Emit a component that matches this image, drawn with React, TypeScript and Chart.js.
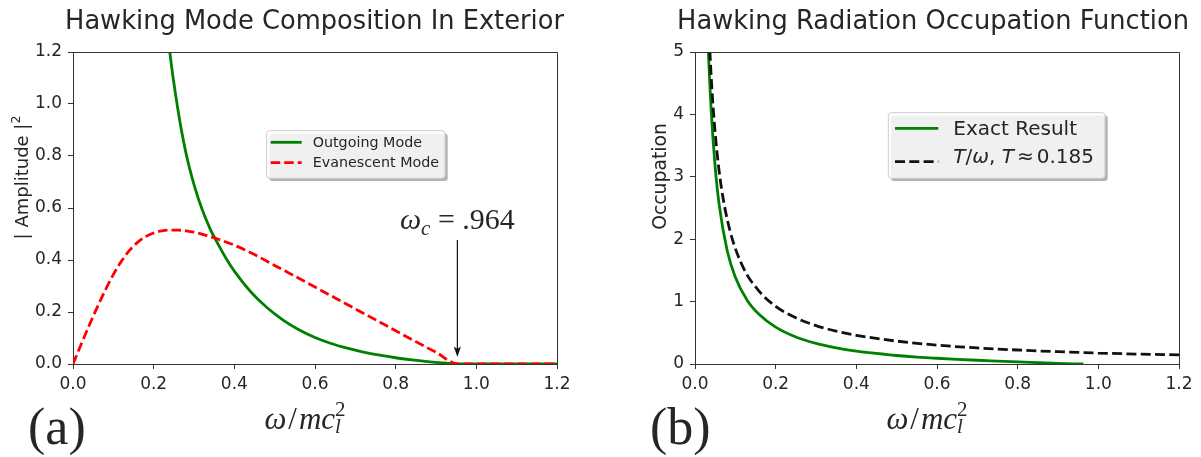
import React, { useEffect, useRef } from 'react';
import { Chart, registerables } from 'chart.js';

Chart.register(...registerables);

// ---------------- data ----------------
const xTickValues = [0, 0.2, 0.4, 0.6, 0.8, 1.0, 1.2];
const amplitudeTickValues = [0, 0.2, 0.4, 0.6, 0.8, 1.0, 1.2];
const occupationTickValues = [0, 1, 2, 3, 4, 5];

const leftTitle = 'Hawking Mode Composition In Exterior';
const rightTitle = 'Hawking Radiation Occupation Function';

// (a) Hawking mode composition in exterior
const omegaOutgoing = [0.2, 0.22, 0.24, 0.26, 0.28, 0.3, 0.32, 0.34, 0.36, 0.38, 0.4, 0.44, 0.48, 0.52, 0.56, 0.6, 0.64, 0.68, 0.72, 0.76, 0.8, 0.84, 0.88, 0.92, 0.953, 1.0, 1.2];
const outgoingAmplitude = [1.94, 1.52, 1.2, 0.98, 0.812, 0.69, 0.595, 0.52, 0.46, 0.405, 0.357, 0.279, 0.218, 0.17, 0.132, 0.102, 0.079, 0.061, 0.046, 0.034, 0.024, 0.016, 0.009, 0.004, 0, 0, 0];

const omegaEvanescent = [0, 0.02, 0.04, 0.06, 0.08, 0.1, 0.12, 0.14, 0.16, 0.18, 0.2, 0.22, 0.24, 0.26, 0.28, 0.3, 0.33, 0.36, 0.4, 0.45, 0.5, 0.55, 0.6, 0.65, 0.7, 0.75, 0.8, 0.85, 0.9, 0.955, 1.0, 1.2];
const evanescentAmplitude = [0, 0.075, 0.148, 0.218, 0.284, 0.344, 0.395, 0.437, 0.468, 0.49, 0.504, 0.512, 0.515, 0.515, 0.512, 0.507, 0.495, 0.48, 0.457, 0.421, 0.379, 0.338, 0.296, 0.254, 0.212, 0.17, 0.128, 0.086, 0.045, 0, 0, 0];

// (b) Hawking radiation occupation function
const omegaExact = [0.025, 0.03, 0.04, 0.05, 0.06, 0.08, 0.1, 0.13, 0.16, 0.2, 0.25, 0.3, 0.35, 0.4, 0.45, 0.5, 0.55, 0.6, 0.65, 0.7, 0.75, 0.8, 0.85, 0.9, 0.963];
const exactOccupation = [6.7, 5.53, 4.08, 3.16, 2.55, 1.81, 1.39, 1.015, 0.788, 0.59, 0.432, 0.33, 0.26, 0.2075, 0.169, 0.136, 0.111, 0.092, 0.075, 0.06, 0.047, 0.034, 0.022, 0.011, 0];

const omegaClassical = [0.03, 0.037, 0.045, 0.054, 0.066, 0.087, 0.12, 0.16, 0.2, 0.25, 0.3, 0.35, 0.4, 0.5, 0.6, 0.7, 0.8, 0.9, 1.0, 1.1, 1.2];
const classicalOccupation = [6.17, 5.0, 4.11, 3.43, 2.8, 2.13, 1.54, 1.16, 0.925, 0.74, 0.615, 0.527, 0.46, 0.367, 0.302, 0.257, 0.224, 0.197, 0.175, 0.159, 0.146];

// cutoff annotation
const cutoffLabel = '.964';
const cutoffArrowOmega = 0.953;
const cutoffArrowTop = 0.477;
const cutoffArrowTip = 0.027;
const cutoffLabelY = 0.52;

// ---------------- styling ----------------
const SANS = "'DejaVu Sans', sans-serif";
const SERIF = "'Liberation Serif', serif";
const AXIS = '#333333';
const TEXT = '#262626';
const GREEN = '#008000';
const RED = '#ff0000';
const BLACK = '#111111';

type Run = { t: string; f: string; dy?: number; gap?: number; stack?: boolean };

function zip(xs: number[], ys: number[]) {
  return xs.map((x, i) => ({ x, y: ys[i] }));
}

function runsWidth(ctx: CanvasRenderingContext2D, runs: Run[]) {
  let w = 0;
  let i = 0;
  while (i < runs.length) {
    const r = runs[i];
    ctx.font = r.f;
    let rw = ctx.measureText(r.t).width;
    if (r.stack && i + 1 < runs.length) {
      ctx.font = runs[i + 1].f;
      rw = Math.max(rw, ctx.measureText(runs[i + 1].t).width);
      i += 2;
    } else i += 1;
    w += rw + (r.gap || 0);
  }
  return w;
}

function drawRuns(ctx: CanvasRenderingContext2D, runs: Run[], x: number, y: number, align: 'left' | 'center') {
  const total = runsWidth(ctx, runs);
  let cx = align === 'center' ? x - total / 2 : x;
  ctx.textAlign = 'left';
  ctx.textBaseline = 'alphabetic';
  let i = 0;
  while (i < runs.length) {
    const r = runs[i];
    ctx.font = r.f;
    ctx.fillText(r.t, cx, y + (r.dy || 0));
    let rw = ctx.measureText(r.t).width;
    if (r.stack && i + 1 < runs.length) {
      const n = runs[i + 1];
      ctx.font = n.f;
      ctx.fillText(n.t, cx, y + (n.dy || 0));
      rw = Math.max(rw, ctx.measureText(n.t).width);
      i += 2;
    } else i += 1;
    cx += rw + (r.gap || 0);
  }
}

function roundRect(ctx: CanvasRenderingContext2D, x: number, y: number, w: number, h: number, r: number) {
  ctx.beginPath();
  ctx.moveTo(x + r, y);
  ctx.lineTo(x + w - r, y);
  ctx.arcTo(x + w, y, x + w, y + r, r);
  ctx.lineTo(x + w, y + h - r);
  ctx.arcTo(x + w, y + h, x + w - r, y + h, r);
  ctx.lineTo(x + r, y + h);
  ctx.arcTo(x, y + h, x, y + h - r, r);
  ctx.lineTo(x, y + r);
  ctx.arcTo(x, y, x + r, y, r);
  ctx.closePath();
}

type LegendSpec = {
  dx: number; dy: number; w: number; h: number;
  lineX0: number; lineX1: number; textX: number;
  rows: { lineY: number; textY: number; runs: Run[] }[];
};

function drawLegend(chart: any, spec: LegendSpec) {
  const ctx: CanvasRenderingContext2D = chart.ctx;
  const a = chart.chartArea;
  const x = a.left + spec.dx;
  const y = a.top + spec.dy;
  ctx.save();
  roundRect(ctx, x + 2.7, y + 2.7, spec.w, spec.h, 3);
  ctx.fillStyle = 'rgba(0,0,0,0.3)';
  ctx.fill();
  roundRect(ctx, x, y, spec.w, spec.h, 3);
  ctx.fillStyle = 'rgba(255,255,255,0.8)';
  ctx.fill();
  ctx.strokeStyle = '#cccccc';
  ctx.lineWidth = 1;
  ctx.stroke();
  const ds = chart.data.datasets;
  spec.rows.forEach((row, i) => {
    const d = ds[i];
    ctx.beginPath();
    ctx.setLineDash(d.borderDash || []);
    ctx.strokeStyle = d.borderColor;
    ctx.lineWidth = d.borderWidth;
    ctx.moveTo(x + spec.lineX0, y + row.lineY);
    ctx.lineTo(x + spec.lineX1, y + row.lineY);
    ctx.stroke();
    ctx.setLineDash([]);
    ctx.fillStyle = TEXT;
    drawRuns(ctx, row.runs, x + spec.textX, y + row.textY, 'left');
  });
  ctx.restore();
}

function drawFrame(chart: any) {
  const ctx: CanvasRenderingContext2D = chart.ctx;
  const a = chart.chartArea;
  const top = Math.round(a.top - 0.5) + 0.5;
  const right = Math.round(a.right - 0.5) + 0.5;
  ctx.save();
  ctx.strokeStyle = AXIS;
  ctx.lineWidth = 1;
  ctx.beginPath();
  ctx.moveTo(a.left, top);
  ctx.lineTo(right, top);
  ctx.lineTo(right, a.bottom);
  ctx.stroke();
  ctx.restore();
}

function xAxisTitleRuns(): Run[] {
  return [
    { t: 'ω', f: `italic 31px ${SERIF}`, gap: 2 },
    { t: '/', f: `31px ${SERIF}`, gap: 2 },
    { t: 'mc', f: `italic 31px ${SERIF}` },
    { t: 'l', f: `italic 21px ${SERIF}`, dy: 4, stack: true },
    { t: '2', f: `21px ${SERIF}`, dy: -13 },
  ];
}

function drawCommonText(chart: any, title: string, titleDx: number, panelLabel: string, yTitle: Run[], yTitleDx: number, yTitleCenterY: number) {
  const ctx: CanvasRenderingContext2D = chart.ctx;
  const a = chart.chartArea;
  ctx.save();
  ctx.fillStyle = TEXT;
  // chart title
  drawRuns(ctx, [{ t: title, f: `25.7px ${SANS}` }], (a.left + a.right) / 2 + titleDx, 28.5, 'center');
  // x axis title
  drawRuns(ctx, xAxisTitleRuns(), (a.left + a.right) / 2 - 10, 429, 'center');
  // panel label
  drawRuns(ctx, [{ t: panelLabel, f: `52px ${SERIF}` }], a.left - 45, 443.5, 'left');
  // y axis title (rotated)
  ctx.translate(a.left + yTitleDx, yTitleCenterY);
  ctx.rotate(-Math.PI / 2);
  drawRuns(ctx, yTitle, 0, 0, 'center');
  ctx.restore();
}

function scales(yTicks: number[], yMax: number, yDigits: number, yWidth: number) {
  const grid = { drawOnChartArea: false, drawTicks: true, tickLength: 5, tickColor: AXIS, tickWidth: 1 };
  const border = { display: true, color: AXIS, width: 1 };
  const tickFont = { family: SANS, size: 17 };
  return {
    x: {
      type: 'linear',
      min: 0,
      max: 1.2,
      afterBuildTicks: (s: any) => { s.ticks = xTickValues.map((v) => ({ value: v })); },
      afterFit: (s: any) => { s.height = 93; },
      grid,
      border,
      ticks: { color: TEXT, font: tickFont, padding: 5, maxRotation: 0, autoSkip: false, callback: (v: any) => Number(v).toFixed(1) },
    },
    y: {
      type: 'linear',
      min: 0,
      max: yMax,
      afterBuildTicks: (s: any) => { s.ticks = yTicks.map((v) => ({ value: v })); },
      afterFit: (s: any) => { s.width = yWidth; },
      grid,
      border,
      ticks: { color: TEXT, font: tickFont, padding: 6, autoSkip: false, callback: (v: any) => Number(v).toFixed(yDigits) },
    },
  };
}

function leftConfig(): any {
  return {
    type: 'line',
    data: {
      datasets: [
        { label: 'Outgoing Mode', data: zip(omegaOutgoing, outgoingAmplitude), borderColor: GREEN, borderWidth: 2.8, pointRadius: 0, cubicInterpolationMode: 'monotone', clip: 0, fill: false, order: 2 },
        { label: 'Evanescent Mode', data: zip(omegaEvanescent, evanescentAmplitude), borderColor: RED, borderWidth: 2.8, borderDash: [9.5, 4], pointRadius: 0, cubicInterpolationMode: 'monotone', clip: 0, fill: false, order: 1 },
      ],
    },
    options: {
      responsive: false,
      animation: false,
      devicePixelRatio: 1,
      events: [],
      layout: { padding: { left: 0, right: 43, top: 52, bottom: 0 } },
      scales: scales(amplitudeTickValues, 1.2, 1, 73),
      plugins: {
        legend: { display: false },
        tooltip: { enabled: false },
        title: { display: false },
      },
    },
    plugins: [
      {
        id: 'leftDecor',
        afterDatasetsDraw(chart: any) {
          drawFrame(chart);
          const ctx: CanvasRenderingContext2D = chart.ctx;
          const xs = chart.scales.x;
          const ys = chart.scales.y;
          const px = xs.getPixelForValue(cutoffArrowOmega);
          const yTop = ys.getPixelForValue(cutoffArrowTop);
          const yTip = ys.getPixelForValue(cutoffArrowTip);
          ctx.save();
          ctx.strokeStyle = '#111';
          ctx.fillStyle = '#111';
          ctx.lineWidth = 1.2;
          ctx.beginPath();
          ctx.moveTo(px, yTop);
          ctx.lineTo(px, yTip - 6);
          ctx.stroke();
          ctx.beginPath();
          ctx.moveTo(px, yTip);
          ctx.lineTo(px - 3.6, yTip - 10.5);
          ctx.lineTo(px, yTip - 8);
          ctx.lineTo(px + 3.6, yTip - 10.5);
          ctx.closePath();
          ctx.fill();
          ctx.fillStyle = TEXT;
          drawRuns(ctx, [
            { t: 'ω', f: `italic 30px ${SERIF}` },
            { t: 'c', f: `italic 21px ${SERIF}`, dy: 6 },
            { t: ' = ' + cutoffLabel, f: `30px ${SERIF}` },
          ], px, ys.getPixelForValue(cutoffLabelY), 'center');
          ctx.restore();
          drawLegend(chart, {
            dx: 193.7, dy: 78.7, w: 178.3, h: 47.6,
            lineX0: 4, lineX1: 35, textX: 46,
            rows: [
              { lineY: 11.6, textY: 16, runs: [{ t: 'Outgoing Mode', f: `14.3px ${SANS}` }] },
              { lineY: 32, textY: 36.6, runs: [{ t: 'Evanescent Mode', f: `14.3px ${SANS}` }] },
            ],
          });
        },
        afterDraw(chart: any) {
          drawCommonText(chart, leftTitle, -0.5, '(a)', [
            { t: '| Amplitude |', f: `18px ${SANS}` },
            { t: '2', f: `12.5px ${SANS}`, dy: -8 },
          ], -45.3, 177.5);
        },
      },
    ],
  };
}

function rightConfig(): any {
  return {
    type: 'line',
    data: {
      datasets: [
        { label: 'Exact Result', data: zip(omegaExact, exactOccupation), borderColor: GREEN, borderWidth: 2.8, pointRadius: 0, cubicInterpolationMode: 'monotone', clip: 0, fill: false, order: 2 },
        { label: 'T/ω, T ≈ 0.185', data: zip(omegaClassical, classicalOccupation), borderColor: BLACK, borderWidth: 2.8, borderDash: [10, 4.3], pointRadius: 0, cubicInterpolationMode: 'monotone', clip: 0, fill: false, order: 1 },
      ],
    },
    options: {
      responsive: false,
      animation: false,
      devicePixelRatio: 1,
      events: [],
      layout: { padding: { left: 0, right: 22, top: 52, bottom: 0 } },
      scales: scales(occupationTickValues, 5, 0, 95),
      plugins: {
        legend: { display: false },
        tooltip: { enabled: false },
        title: { display: false },
      },
    },
    plugins: [
      {
        id: 'rightDecor',
        afterDatasetsDraw(chart: any) {
          drawFrame(chart);
          drawLegend(chart, {
            dx: 193.3, dy: 60.7, w: 216.7, h: 65.6,
            lineX0: 6.7, lineX1: 50, textX: 65,
            rows: [
              { lineY: 15.6, textY: 22.3, runs: [{ t: 'Exact Result', f: `20px ${SANS}` }] },
              {
                lineY: 49, textY: 50.6, runs: [
                  { t: 'T', f: `italic 20px ${SANS}` },
                  { t: '/', f: `20px ${SANS}` },
                  { t: 'ω', f: `italic 20px ${SANS}` },
                  { t: ', ', f: `20px ${SANS}` },
                  { t: 'T', f: `italic 20px ${SANS}`, gap: 3 },
                  { t: '≈', f: `20px ${SANS}`, gap: 3 },
                  { t: '0.185', f: `20px ${SANS}` },
                ],
              },
            ],
          });
        },
        afterDraw(chart: any) {
          drawCommonText(chart, rightTitle, -4, '(b)', [{ t: 'Occupation', f: `18.8px ${SANS}` }], -29.4, 176.5);
        },
      },
    ],
  };
}

function Panel({ left, width, makeConfig }: { left: number; width: number; makeConfig: () => any }) {
  const ref = useRef<HTMLCanvasElement>(null);
  useEffect(() => {
    const chart = new Chart(ref.current as HTMLCanvasElement, makeConfig());
    return () => chart.destroy();
  }, []);
  return (
    <div style={{ position: 'absolute', left, top: 0, width, height: 457 }}>
      <canvas ref={ref} width={width} height={457} style={{ display: 'block', width, height: 457 }} />
    </div>
  );
}

export default function App() {
  return (
    <div style={{ position: 'absolute', left: 0, top: 0, width: 1201, height: 457, background: '#ffffff', overflow: 'hidden' }}>
      <Panel left={0} width={600} makeConfig={leftConfig} />
      <Panel left={600} width={601} makeConfig={rightConfig} />
    </div>
  );
}
